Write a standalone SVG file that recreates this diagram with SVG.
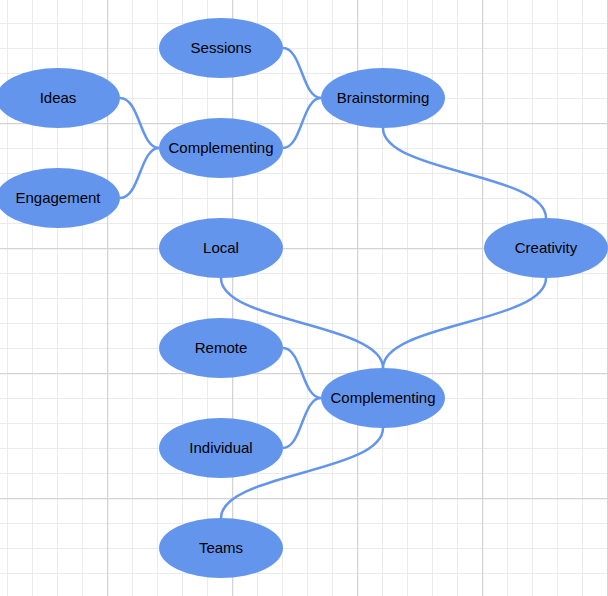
<svg xmlns="http://www.w3.org/2000/svg" width="608" height="596" viewBox="0 0 608 596">
<defs>
<pattern id="minor" patternUnits="userSpaceOnUse" x="7" y="23" width="25" height="25"><path d="M0.5,0 V25 M0,0.5 H25" stroke="#ebebeb" stroke-width="1" fill="none"/></pattern>
<pattern id="major" patternUnits="userSpaceOnUse" x="107" y="123" width="125" height="125"><path d="M0.5,0 V125 M0,0.5 H125" stroke="#d4d4d4" stroke-width="1.5" fill="none"/></pattern>
<style>
.node ellipse{fill:#6495ED;}
.node text{font-family:"Liberation Sans",Arial,sans-serif;font-size:15px;fill:#000;text-anchor:middle;dominant-baseline:central;}
.edges path{fill:none;stroke:#6495ED;stroke-width:2.5;}
</style>
</defs>
<rect width="608" height="596" fill="#fff"/>
<rect width="608" height="596" fill="url(#minor)"/>
<rect width="608" height="596" fill="url(#major)"/>
<g id="connectors" class="edges">
<path d="M283,48 C302,48 302,98 321,98"/>
<path d="M283,148 C302,148 302,98 321,98"/>
<path d="M120,98 C140,98 140,148 159,148"/>
<path d="M120,198 C140,198 140,148 159,148"/>
<path d="M383,128 C383,173 546,173 546,218"/>
<path d="M221,278 C221,323 383,323 383,368"/>
<path d="M546,278 C546,323 383,323 383,368"/>
<path d="M283,348 C302,348 302,398 321,398"/>
<path d="M283,448 C302,448 302,398 321,398"/>
<path d="M383,428 C383,473 221,473 221,518"/>
</g>
<g id="sessions" class="node"><ellipse cx="221" cy="48" rx="62" ry="30"/><text x="221" y="47">Sessions</text></g>
<g id="brainstorming" class="node"><ellipse cx="383" cy="98" rx="62" ry="30"/><text x="383" y="97">Brainstorming</text></g>
<g id="ideas" class="node"><ellipse cx="58" cy="98" rx="62" ry="30"/><text x="58" y="97">Ideas</text></g>
<g id="complementing1" class="node"><ellipse cx="221" cy="148" rx="62" ry="30"/><text x="221" y="147">Complementing</text></g>
<g id="engagement" class="node"><ellipse cx="58" cy="198" rx="62" ry="30"/><text x="58" y="197">Engagement</text></g>
<g id="local" class="node"><ellipse cx="221" cy="248" rx="62" ry="30"/><text x="221" y="247">Local</text></g>
<g id="creativity" class="node"><ellipse cx="546" cy="248" rx="62" ry="30"/><text x="546" y="247">Creativity</text></g>
<g id="remote" class="node"><ellipse cx="221" cy="348" rx="62" ry="30"/><text x="221" y="347">Remote</text></g>
<g id="complementing2" class="node"><ellipse cx="383" cy="398" rx="62" ry="30"/><text x="383" y="397">Complementing</text></g>
<g id="individual" class="node"><ellipse cx="221" cy="448" rx="62" ry="30"/><text x="221" y="447">Individual</text></g>
<g id="teams" class="node"><ellipse cx="221" cy="548" rx="62" ry="30"/><text x="221" y="547">Teams</text></g>
</svg>
